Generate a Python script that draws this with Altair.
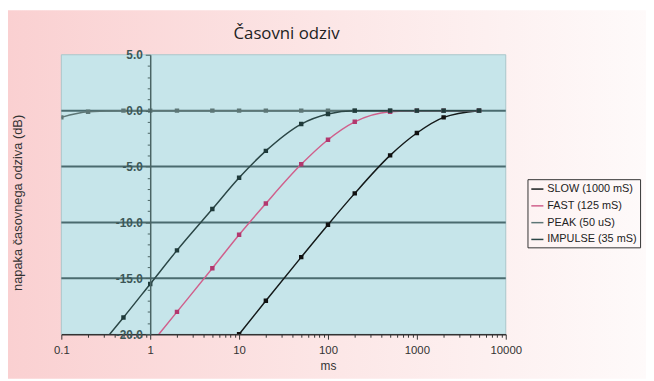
import altair as alt
import pandas as pd

# ---- data ----
SERIES = ["SLOW (1000 mS)", "FAST (125 mS)", "PEAK (50 uS)", "IMPULSE (35 mS)"]
COLORS = ["#151a1a", "#d0608c", "#5d7676", "#2b4646"]
MARK_COLORS = ["#111111", "#b2386e", "#5d7676", "#1f3a3a"]

SLOW_MS = [10, 20, 50, 100, 200, 500, 1000, 2000, 5000]
SLOW_DB = [-20.0, -17.0, -13.1, -10.2, -7.4, -4.0, -2.0, -0.6, 0.0]
SLOW_MK = [True] * 9

FAST_MS = [1.25, 2, 5, 10, 20, 50, 100, 200, 500, 1000, 2000, 5000]
FAST_DB = [-20.0, -18.0, -14.1, -11.1, -8.3, -4.8, -2.6, -1.0, -0.1, 0.0, 0.0, 0.0]
FAST_MK = [False] + [True] * 11

PEAK_MS = [0.1, 0.2, 0.5, 1, 2, 5, 10, 20, 50, 100, 200, 500, 1000, 2000, 5000]
PEAK_DB = [-0.6, -0.1, 0.0, 0.0, 0.0, 0.0, 0.0, 0.0, 0.0, 0.0, 0.0, 0.0, 0.0, 0.0, 0.0]
PEAK_MK = [True] * 15

IMPULSE_MS = [0.35, 0.5, 1, 2, 5, 10, 20, 50, 100, 200, 500, 1000, 2000, 5000]
IMPULSE_DB = [-20.0, -18.5, -15.5, -12.5, -8.8, -6.0, -3.6, -1.2, -0.3, 0.0, 0.0, 0.0, 0.0, 0.0]
IMPULSE_MK = [False] + [True] * 13

GRID_DB = [0, -5, -10, -15]
Y_TICKS = list(range(-20, 6))
X_TICKS = [0.1, 0.2, 0.3, 0.4, 0.5, 0.6, 0.7, 0.8, 0.9,
           1, 2, 3, 4, 5, 6, 7, 8, 9,
           10, 20, 30, 40, 50, 60, 70, 80, 90,
           100, 200, 300, 400, 500, 600, 700, 800, 900,
           1000, 2000, 3000, 4000, 5000, 6000, 7000, 8000, 9000, 10000]
TITLE = "Časovni odziv"
Y_TITLE = "napaka časovnega odziva (dB)"
X_TITLE = "ms"

rows = []
for name, xs, ys, mk in [
    (SERIES[0], SLOW_MS, SLOW_DB, SLOW_MK),
    (SERIES[1], FAST_MS, FAST_DB, FAST_MK),
    (SERIES[2], PEAK_MS, PEAK_DB, PEAK_MK),
    (SERIES[3], IMPULSE_MS, IMPULSE_DB, IMPULSE_MK),
]:
    for x, y, m in zip(xs, ys, mk):
        rows.append({"ms": x, "db": y, "series": name, "mk": m})
df = pd.DataFrame(rows)

W, H = 450, 283
one = pd.DataFrame({"a": [0]})

xscale = alt.Scale(type="log", domain=[0.1, 10000])
yscale = alt.Scale(domain=[-20, 5])
color = alt.Color("series:N", scale=alt.Scale(domain=SERIES, range=COLORS),
                  sort=SERIES,
                  legend=alt.Legend(title=None, orient="none", legendX=472, legendY=126,
                                    symbolType="stroke", symbolStrokeWidth=1.5,
                                    symbolSize=150, labelFont="Liberation Sans",
                                    labelFontSize=11, labelColor="#222",
                                    strokeColor="#333", padding=3, rowPadding=5,
                                    labelOffset=3, fillColor="#ffffff00"))

bg = alt.Chart(one).mark_rect(
    fill=alt.Gradient(gradient="linear",
                      stops=[alt.GradientStop(color="#fad0d1", offset=0),
                             alt.GradientStop(color="#fce6e6", offset=0.5),
                             alt.GradientStop(color="#fefafa", offset=1)],
                      x1=0, x2=1, y1=0, y2=0),
    clip=False).encode(x=alt.value(-54), x2=alt.value(592), y=alt.value(-45), y2=alt.value(328))

plotbg = alt.Chart(one).mark_rect(fill="#c6e5ea", stroke="#a9c6ca", strokeWidth=1).encode(
    x=alt.value(0), x2=alt.value(W), y=alt.value(0), y2=alt.value(H))

grid = alt.Chart(pd.DataFrame({"g": GRID_DB})).mark_rule(color="#4a6b6f", strokeWidth=2).encode(
    y=alt.Y("g:Q", scale=yscale))

major_x = "abs(log(datum.value)/LN10 - round(log(datum.value)/LN10)) < 0.001"

lines = alt.Chart(df).mark_line(interpolate="monotone", strokeWidth=1.5, clip=True).encode(
    x=alt.X("ms:Q", scale=xscale,
            axis=alt.Axis(values=X_TICKS, tickCount=100, title=X_TITLE, grid=False, zindex=1,
                          labelExpr=major_x + " ? format(datum.value, '~g') : ''",
                          labelFont="Liberation Sans", labelFontSize=11.5, labelColor="#333",
                          labelPadding=5, tickColor="#333", domainColor="#333",
                          tickSize={"condition": {"test": major_x, "value": 5}, "value": 3},
                          domainWidth=1.5, titleFont="Liberation Sans", titleFontSize=12,
                          titleFontWeight="normal", titleColor="#333", titleX=270, titleY=27,
                          labelFlush=False, labelOverlap=False)),
    y=alt.Y("db:Q", scale=yscale,
            axis=alt.Axis(values=Y_TICKS, tickCount=100, title=None, grid=False, offset=-90, zindex=1,
                          labelExpr="datum.value % 5 == 0 ? replace(format(datum.value, '.1f'), '−', '-') : ''",
                          labelFontSize={"condition": {"test": "datum.value % 5 == 0", "value": 12}, "value": 0},
                          tickSize={"condition": {"test": "datum.value % 5 == 0", "value": 5}, "value": 3},
                          labelFont="Liberation Sans", labelFontWeight="bold",
                          labelColor="#3d5858", labelPadding=3, tickColor="#4a6464",
                          domainColor="#4a6464", domainWidth=1.5, labelOverlap=False)),
    color=color,
)

points = alt.Chart(df).transform_filter("datum.mk").mark_point(
    shape="square", filled=True, size=20, clip=True, opacity=1).encode(
    x=alt.X("ms:Q", scale=xscale),
    y=alt.Y("db:Q", scale=yscale),
    color=alt.Color("series:N", scale=alt.Scale(domain=SERIES, range=MARK_COLORS), legend=None),
)

ytitle = alt.Chart(one).mark_text(angle=270, font="Liberation Sans", fontSize=13, color="#333").encode(
    x=alt.value(-44), y=alt.value(150), text=alt.value(Y_TITLE))

title = alt.Chart(one).mark_text(font="Open Sans", fontSize=17, color="#222", baseline="middle").encode(
    x=alt.value(228), y=alt.value(-21), text=alt.value(TITLE))

chart = alt.layer(bg, plotbg, grid, lines, points, ytitle, title).resolve_scale(color="independent").properties(
    width=W, height=H,
    autosize=alt.AutoSizeParams(type="none"),
    padding={"left": 54, "top": 45, "right": 142, "bottom": 45},
).configure_view(strokeWidth=0).configure(background="white")

chart.save("out.html", embed_options={"renderer": "svg", "actions": False})
